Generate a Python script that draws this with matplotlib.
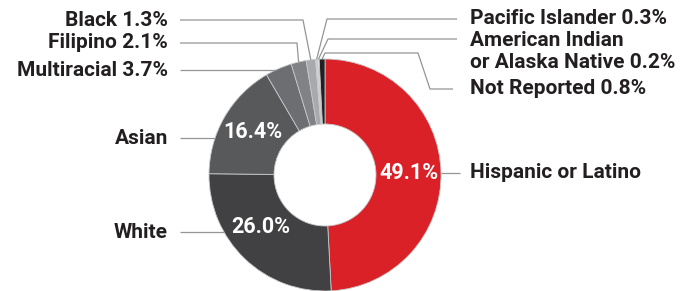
import numpy as np
import matplotlib
matplotlib.use("Agg")
import matplotlib.pyplot as plt

# ----------------------------------------------------------------------
# DATA
# ----------------------------------------------------------------------
groups = ["Hispanic or Latino", "White", "Asian", "Multiracial", "Filipino",
          "Black", "Pacific Islander", "American Indian\nor Alaska Native",
          "Not Reported"]
shares = [49.1, 26.0, 16.4, 3.7, 2.1, 1.3, 0.3, 0.2, 0.8]
colors = ["#da2128", "#414042", "#58595b", "#6d6e71", "#808285",
          "#a7a9ac", "#d1d3d4", "#eeeeee", "#231f20"]

TXT = "#231f20"
LINE = "#939598"
FONT = "Roboto"

W, H = 698, 291
fig = plt.figure(figsize=(W / 100, H / 100), dpi=100)
ax = fig.add_axes([0, 0, 1, 1])

# pixel-like frame (y up)
cx, cy = 325, H - 175
R, r_in = 116, 51

wedges, _ = ax.pie(shares, colors=colors, startangle=90, counterclock=False,
                   radius=R, center=(cx, cy),
                   wedgeprops=dict(width=R - r_in, edgecolor="#c7c8ca", linewidth=0.6))
ax.set_xlim(0, W)
ax.set_ylim(0, H)
ax.set_aspect("equal")
ax.axis("off")

total = sum(shares)
cum = np.cumsum([0] + shares[:-1])
mid_deg = [(c + s / 2) / total * 360 for c, s in zip(cum, shares)]  # clockwise from top


def edge_pt(i, rr=R):
    a = np.deg2rad(mid_deg[i])
    return cx + rr * np.sin(a), cy + rr * np.cos(a)


def edge_x(y, side):
    dy = y - cy
    return cx + side * np.sqrt(max(R ** 2 - dy ** 2, 0))


# percentages inside the ring
for i, (s, dx, dy) in enumerate([(49.1, 0, 0), (26.0, -6, 8), (16.4, 0, 1)]):
    x, y = edge_pt(i, (R + r_in) / 2)
    ax.text(x + dx, y + dy, f"{s:.1f}%", color="white", fontsize=15.5,
            fontweight="bold", family=FONT, ha="center", va="center")

kw = dict(color=LINE, lw=0.9, solid_capstyle="butt")
tk = dict(color=TXT, fontsize=15, fontweight="bold", family=FONT, va="center")

# left side labels with horizontal leaders
yy = lambda p: H - p
LX, LT = 180, 168
# Black, Filipino: elbow leaders
for i, y_px, x_elb in [(5, 20, 303), (4, 43, 297)]:
    ex, ey = edge_pt(i)
    ax.plot([LX, x_elb, ex], [yy(y_px), yy(y_px), ey], **kw)
    ax.text(LT, yy(y_px), f"{groups[i]} {shares[i]}%", ha="right", **tk)
# Multiracial, Asian, White: straight leaders to ring edge
for i, y_px, lab in [(3, 70, f"{groups[3]} {shares[3]}%"), (2, 138, groups[2]),
                     (1, 232, groups[1])]:
    ax.plot([LX, edge_x(yy(y_px), -1)], [yy(y_px), yy(y_px)], **kw)
    ax.text(LT, yy(y_px), lab, ha="right", **tk)

# right side
RX, RT = 457, 470
for i, y_px, x_elb in [(6, 19, 327), (7, 39, 328)]:
    ex, ey = edge_pt(i)
    ax.plot([ex, x_elb, RX], [ey, yy(y_px), yy(y_px)], **kw)
ax.text(RT, yy(18), f"{groups[6]} {shares[6]}%", ha="left", **tk)
line1, line2 = groups[7].split("\n")
ax.text(RT, yy(40), line1, ha="left", **tk)
ax.text(RT, yy(62), f"{line2} {shares[7]}%", ha="left", **tk)

ex, ey = edge_pt(8)
ax.plot([ex, 325, 418, 430, 453], [ey, yy(53), yy(53), yy(89), yy(89)], **kw)
ax.text(RT, yy(89), f"{groups[8]} {shares[8]}%", ha="left", **tk)

ax.plot([edge_x(yy(173), 1), 460], [yy(173), yy(173)], **kw)
ax.text(RT, yy(173), groups[0], ha="left", **tk)

fig.savefig("out.png", dpi=100)
